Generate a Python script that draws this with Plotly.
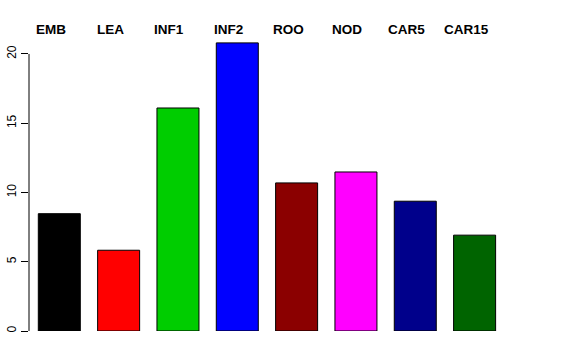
import plotly.graph_objects as go

categories = ["EMB", "LEA", "INF1", "INF2", "ROO", "NOD", "CAR5", "CAR15"]
values = [8.47, 5.83, 16.1, 20.8, 10.69, 11.48, 9.37, 6.92]
colors = ["#000000", "#FF0000", "#00CD00", "#0000FF", "#8B0000", "#FF00FF", "#00008B", "#006400"]
y_ticks = [0, 5, 10, 15, 20]

xs = list(range(len(categories)))
font = "Liberation Sans, Arial, Helvetica, sans-serif"

fig = go.Figure()
fig.add_trace(go.Bar(
    x=xs, y=values, width=0.708,
    marker=dict(color=colors, line=dict(color="#000000", width=1)),
    hoverinfo="skip",
))

for i, c in enumerate(categories):
    fig.add_annotation(x=i, y=1.0017, xref="x", yref="paper", text="<b>" + c + "</b>",
                       showarrow=False, xshift=-8.5, yanchor="middle",
                       font=dict(family=font, size=13.5, color="#000000"))

# R-style axis line spanning only from first to last tick
fig.add_shape(type="line", xref="paper", yref="y", x0=0, x1=0, y0=y_ticks[0], y1=y_ticks[-1],
              line=dict(color="#000000", width=1))

fig.update_layout(
    width=576, height=360,
    margin=dict(l=29, r=0, t=30, b=29),
    paper_bgcolor="white", plot_bgcolor="white",
    showlegend=False,
    font=dict(family=font, size=12, color="#000000"),
    xaxis=dict(range=[-0.5107, 8.709], visible=False, fixedrange=True),
    yaxis=dict(range=[0, 21.73], tickvals=y_ticks, ticktext=[str(t) for t in y_ticks],
               ticks="outside", ticklen=7, tickcolor="#000000", tickwidth=1,
               tickangle=-90, showgrid=False, zeroline=False, showline=False,
               tickfont=dict(family=font, size=12, color="#000000")),
)

fig.write_html("out.html", config={"displayModeBar": False},
               post_script="document.body.style.margin='0';document.body.style.overflow='hidden';")
